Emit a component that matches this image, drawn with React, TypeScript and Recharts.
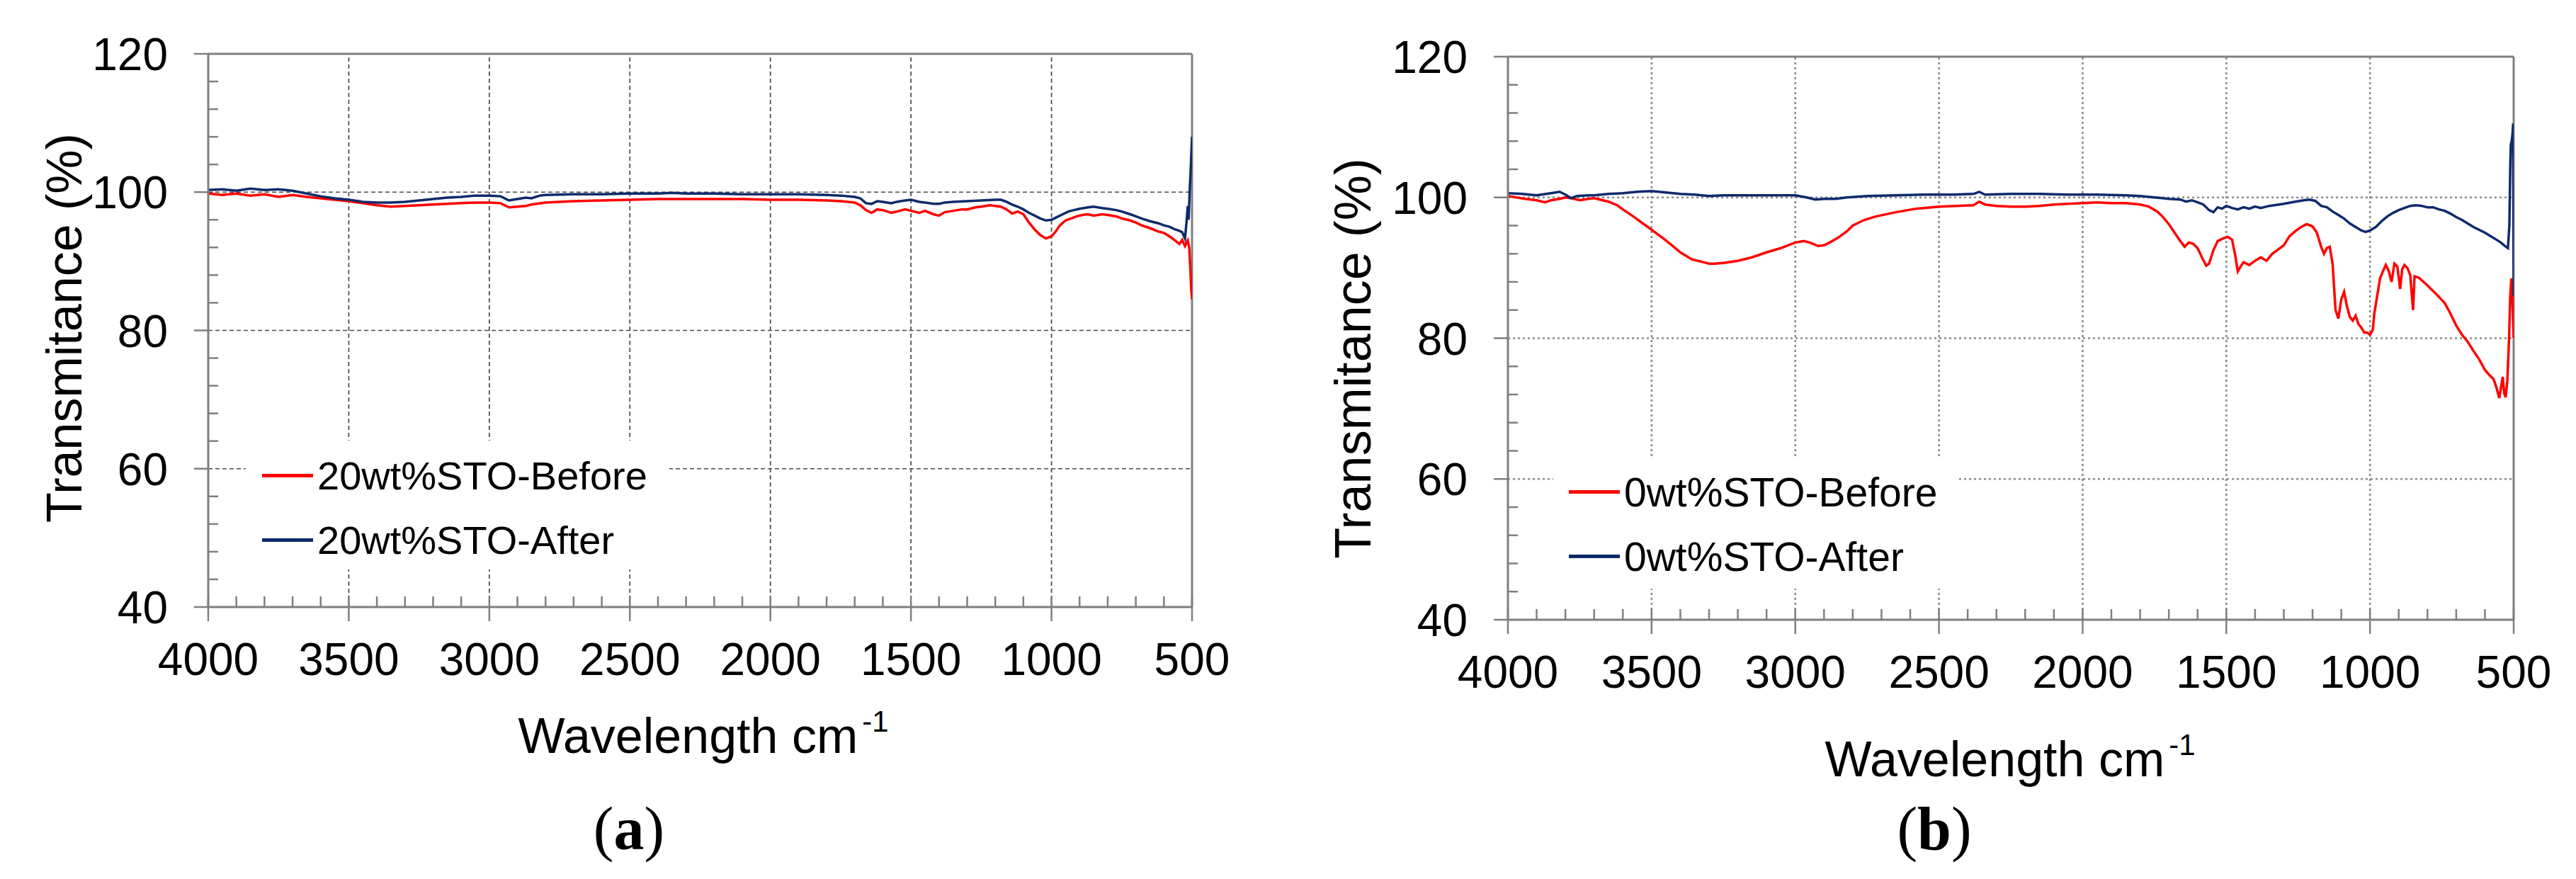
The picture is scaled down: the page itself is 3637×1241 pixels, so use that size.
import React from "react";
import { LineChart, Line, XAxis, YAxis, ReferenceLine, Legend } from "recharts";

// ---------- tick values ----------
const X_MAJOR = [4000, 3500, 3000, 2500, 2000, 1500, 1000, 500];
const X_MINOR = [
  4000, 3900, 3800, 3700, 3600, 3500, 3400, 3300, 3200, 3100, 3000, 2900, 2800, 2700, 2600, 2500, 2400, 2300,
  2200, 2100, 2000, 1900, 1800, 1700, 1600, 1500, 1400, 1300, 1200, 1100, 1000, 900, 800, 700, 600, 500,
];
const X_GRID = [3500, 3000, 2500, 2000, 1500, 1000];
const Y_MAJOR = [40, 60, 80, 100, 120];
const Y_MINOR = [40, 44, 48, 52, 56, 60, 64, 68, 72, 76, 80, 84, 88, 92, 96, 100, 104, 108, 112, 116, 120];
const Y_GRID = [60, 80, 100];

// ---------- panel (a): 20wt%STO ----------
const A_BEFORE_WN = [
  4000, 3950, 3900, 3850, 3800, 3750, 3700, 3650, 3600, 3550, 3500, 3450, 3400, 3350, 3300, 3250, 3200, 3150, 3100,
  3050, 3000, 2960, 2930, 2900, 2870, 2850, 2800, 2700, 2600, 2500, 2400, 2300, 2200, 2100, 2000, 1900, 1800, 1750,
  1700, 1680, 1660, 1640, 1620, 1600, 1570, 1550, 1520, 1500, 1470, 1450, 1420, 1400, 1380, 1350, 1320, 1300, 1270,
  1250, 1220, 1200, 1180, 1160, 1140, 1120, 1100, 1080, 1060, 1040, 1020, 1000, 985, 970, 950, 930, 910, 890, 870,
  850, 820, 800, 770, 750, 720, 700, 680, 650, 620, 600, 580, 560, 545, 535, 525, 515, 510, 506, 503, 500,
];
const A_BEFORE_T = [
  99.8, 99.6, 99.8, 99.5, 99.7, 99.3, 99.6, 99.3, 99.1, 98.9, 98.7, 98.4, 98.1, 97.9, 98.0, 98.1, 98.2, 98.3, 98.4,
  98.5, 98.5, 98.4, 97.8, 97.9, 98.0, 98.2, 98.5, 98.7, 98.8, 98.9, 99.0, 99.0, 99.0, 99.0, 98.9, 98.9, 98.8, 98.7,
  98.5, 98.1, 97.4, 97.0, 97.5, 97.4, 97.0, 97.2, 97.5, 97.3, 97.0, 97.3, 96.8, 96.6, 97.1, 97.3, 97.5, 97.5, 97.8,
  97.9, 98.1, 98.0, 97.9, 97.5, 96.9, 97.2, 96.8, 95.6, 94.6, 93.8, 93.3, 93.6, 94.3, 95.2, 95.9, 96.2, 96.5, 96.7, 96.8,
  96.6, 96.8, 96.7, 96.5, 96.2, 95.9, 95.6, 95.2, 94.8, 94.3, 94.1, 93.6, 93.0, 92.5, 93.1, 92.2, 93.0, 92.0, 89.0, 86.0, 84.5,
];
const A_AFTER_WN = [
  4000, 3950, 3900, 3850, 3800, 3750, 3700, 3650, 3600, 3550, 3500, 3450, 3400, 3350, 3300, 3250, 3200, 3150, 3100,
  3050, 3000, 2960, 2930, 2900, 2870, 2850, 2820, 2800, 2700, 2600, 2500, 2400, 2350, 2300, 2200, 2100, 2000, 1900,
  1800, 1750, 1700, 1680, 1660, 1640, 1620, 1600, 1570, 1550, 1520, 1500, 1470, 1450, 1420, 1400, 1380, 1350, 1300,
  1250, 1200, 1180, 1160, 1140, 1120, 1100, 1080, 1060, 1040, 1020, 1000, 980, 960, 940, 920, 900, 870, 850, 820, 800,
  770, 750, 720, 700, 680, 650, 620, 600, 580, 560, 545, 535, 525, 520, 515, 512, 508, 505, 502, 500,
];
const A_AFTER_T = [
  100.3, 100.4, 100.2, 100.5, 100.3, 100.4, 100.2, 99.8, 99.4, 99.1, 98.9, 98.6, 98.5, 98.5, 98.6, 98.8, 99.0, 99.2,
  99.3, 99.5, 99.5, 99.4, 98.8, 99.0, 99.2, 99.1, 99.5, 99.6, 99.7, 99.7, 99.8, 99.8, 99.9, 99.8, 99.8, 99.7, 99.7,
  99.7, 99.6, 99.5, 99.3, 99.1, 98.4, 98.3, 98.7, 98.6, 98.4, 98.6, 98.8, 98.9, 98.6, 98.5, 98.3, 98.3, 98.5, 98.6,
  98.7, 98.8, 98.9, 98.9, 98.6, 98.2, 97.9, 97.5, 97.0, 96.6, 96.2, 95.9, 96.0, 96.4, 96.8, 97.2, 97.4, 97.6, 97.8,
  97.9, 97.7, 97.6, 97.4, 97.2, 96.8, 96.5, 96.2, 95.8, 95.5, 95.2, 95.0, 94.6, 94.4, 94.2, 93.3, 95.5, 98.0, 96.0,
  100.5, 103.0, 106.0, 108.0,
];

// ---------- panel (b): 0wt%STO ----------
const B_BEFORE_WN = [
  4000, 3970, 3940, 3900, 3870, 3850, 3820, 3800, 3780, 3750, 3720, 3700, 3680, 3650, 3620, 3600, 3560, 3520, 3500,
  3460, 3420, 3400, 3360, 3320, 3300, 3280, 3250, 3200, 3150, 3100, 3050, 3000, 2970, 2950, 2920, 2900, 2880, 2850,
  2820, 2800, 2760, 2720, 2650, 2580, 2500, 2440, 2380, 2360, 2340, 2300, 2250, 2200, 2150, 2100, 2050, 2000, 1950,
  1900, 1850, 1800, 1770, 1740, 1720, 1700, 1680, 1660, 1645, 1630, 1615, 1600, 1585, 1570, 1560, 1545, 1530, 1510,
  1495, 1480, 1470, 1460, 1450, 1440, 1420, 1400, 1380, 1360, 1340, 1320, 1300, 1280, 1260, 1240, 1220, 1200, 1185,
  1170, 1160, 1150, 1140, 1130, 1120, 1110, 1100, 1090, 1080, 1070, 1060, 1050, 1040, 1030, 1020, 1010, 1000, 990,
  985, 975, 965, 955, 945, 935, 925, 915, 905, 895, 888, 880, 870, 860, 850, 845, 830, 800, 770, 740, 720, 700, 680,
  660, 640, 620, 600, 585, 570, 560, 550, 545, 538, 533, 528, 522, 516, 512, 508, 504, 500,
];
const B_BEFORE_T = [
  100.2, 100.0, 99.8, 99.6, 99.3, 99.6, 99.8, 100.0, 99.9, 99.6, 99.8, 99.9, 99.7, 99.4, 98.9, 98.3, 97.2, 96.0, 95.4,
  94.2, 92.9, 92.2, 91.2, 90.8, 90.6, 90.6, 90.7, 91.0, 91.5, 92.2, 92.8, 93.6, 93.8, 93.6, 93.1, 93.2, 93.6, 94.3,
  95.2, 96.0, 96.8, 97.3, 97.9, 98.4, 98.7, 98.8, 98.9, 99.4, 99.0, 98.8, 98.7, 98.7, 98.8, 99.0, 99.1, 99.2, 99.3,
  99.2, 99.2, 99.0, 98.7, 98.0, 97.2, 96.2, 95.0, 93.8, 93.0, 93.6, 93.4, 92.8, 91.5, 90.3, 90.6, 92.5, 93.8, 94.2,
  94.4, 94.0, 92.0, 89.5, 90.2, 90.8, 90.4, 91.0, 91.5, 91.0, 92.0, 92.6, 93.2, 94.5, 95.2, 95.8, 96.2, 95.9, 95.0,
  93.0, 92.0, 92.8, 93.0, 90.5, 84.0, 82.8, 85.5, 86.6, 84.5, 83.0, 82.5, 83.2, 82.0, 81.5, 80.8, 80.8, 80.5, 81.2,
  83.5, 86.0, 88.5, 89.5, 90.4, 89.6, 88.0, 90.6, 90.2, 87.0, 89.8, 90.4, 90.0, 89.0, 84.0, 88.8, 88.6, 87.5, 86.3,
  85.0, 83.5, 81.8, 80.5, 79.5, 78.2, 77.0, 75.5, 74.8, 74.2, 73.0, 71.5, 72.8, 74.5, 72.2, 71.6, 74.0, 80.0, 86.0,
  88.5, 85.0, 80.0,
];
const B_AFTER_WN = [
  4000, 3950, 3900, 3850, 3820, 3800, 3780, 3760, 3720, 3700, 3650, 3600, 3550, 3500, 3450, 3400, 3350, 3300, 3250,
  3200, 3100, 3000, 2960, 2930, 2900, 2860, 2820, 2750, 2650, 2550, 2450, 2380, 2360, 2340, 2250, 2150, 2050, 1950,
  1850, 1800, 1750, 1700, 1660, 1640, 1620, 1600, 1580, 1560, 1545, 1530, 1515, 1500, 1480, 1460, 1440, 1420, 1400,
  1380, 1350, 1300, 1260, 1230, 1210, 1190, 1170, 1150, 1130, 1110, 1090, 1070, 1050, 1030, 1015, 1000, 980, 960, 940,
  920, 900, 880, 860, 840, 820, 800, 780, 760, 740, 720, 700, 680, 660, 640, 620, 600, 580, 560, 545, 530, 520, 515,
  512, 510, 507, 504, 502, 500,
];
const B_AFTER_T = [
  100.6, 100.5, 100.3, 100.6, 100.8, 100.4, 99.9, 100.2, 100.3, 100.3, 100.5, 100.6, 100.8, 100.9, 100.7, 100.5,
  100.4, 100.2, 100.3, 100.3, 100.3, 100.3, 100.0, 99.7, 99.8, 99.8, 100.0, 100.2, 100.3, 100.4, 100.4, 100.5, 100.8,
  100.4, 100.5, 100.5, 100.4, 100.4, 100.3, 100.2, 100.0, 99.8, 99.7, 99.4, 99.6, 99.3, 99.0, 98.2, 97.9, 98.6, 98.4,
  98.8, 98.5, 98.3, 98.6, 98.4, 98.7, 98.5, 98.8, 99.1, 99.4, 99.6, 99.7, 99.5, 98.8, 98.6, 98.0, 97.5, 97.0, 96.3,
  95.8, 95.3, 95.1, 95.3, 95.8, 96.6, 97.3, 97.8, 98.2, 98.5, 98.8, 98.9, 98.8, 98.6, 98.6, 98.3, 98.1, 97.7, 97.2,
  96.8, 96.3, 95.8, 95.4, 95.0, 94.5, 94.0, 93.6, 93.1, 92.8, 96.0, 104.0, 107.5, 108.0, 109.0, 110.5, 86.0,
];

const SERIES_NAMES_A = ["20wt%STO-Before", "20wt%STO-After"];
const SERIES_NAMES_B = ["0wt%STO-Before", "0wt%STO-After"];

const RED = "#ff0000";
const NAVY = "#0c2b6b";
const AXIS = "#7f7f7f";
const FONT = "'Liberation Sans', Arial, sans-serif";

const toRows = (wn: number[], t: number[]) => wn.map((w, i) => ({ wn: w, t: t[i] }));

const renderXTick = (props: any) => {
  const { x, y, payload } = props;
  const v = payload.value;
  if (X_MAJOR.includes(v)) {
    return (
      <g>
        <line x1={x} x2={x} y1={y - 15} y2={y + 20} stroke={AXIS} strokeWidth={2.5} />
        <text x={x} y={y + 96} textAnchor="middle" fontSize={64} fontFamily={FONT} fill="#000">
          {v}
        </text>
      </g>
    );
  }
  return <line x1={x} x2={x} y1={y} y2={y - 15} stroke={AXIS} strokeWidth={2.5} />;
};

const renderYTick = (props: any) => {
  const { x, y, payload } = props;
  const v = payload.value;
  if (Y_MAJOR.includes(v)) {
    return (
      <g>
        <line x1={x - 20} x2={x} y1={y} y2={y} stroke={AXIS} strokeWidth={2.5} />
        <text x={x - 57} y={y + 23} textAnchor="end" fontSize={64} fontFamily={FONT} fill="#000">
          {v}
        </text>
      </g>
    );
  }
  return <line x1={x} x2={x + 14} y1={y} y2={y} stroke={AXIS} strokeWidth={2.5} />;
};

const makeLegend = (padLeft: number, fontSize: number, names: string[]) => (props: any) => {
  const items = [...(props.payload || [])].sort(
    (a: any, b: any) => names.indexOf(a.value) - names.indexOf(b.value)
  );
  return (
    <div style={{ paddingLeft: padLeft, paddingTop: 4 }}>
      {items.map((it: any) => (
        <div
          key={it.value}
          style={{ display: "flex", alignItems: "center", height: 91, fontFamily: FONT, fontSize, color: "#000" }}
        >
          <div style={{ width: 72, height: 5, background: it.color, marginRight: 6 }} />
          <span>{it.value}</span>
        </div>
      ))}
    </div>
  );
};

type PanelProps = {
  left: number;
  width: number;
  margin: { top: number; right: number; bottom: number; left: number };
  before: { wn: number; t: number }[];
  after: { wn: number; t: number }[];
  names: string[];
  gridDash: string;
  gridColor: string;
  gridWidth: number;
  legendBox: { left: number; top: number; width: number; height: number };
  legendPad: number;
  legendFont: number;
};

const Panel = (p: PanelProps) => (
  <div style={{ position: "absolute", left: p.left, top: 0 }}>
    <LineChart width={p.width} height={1241} margin={p.margin}>
      <XAxis
        dataKey="wn"
        type="number"
        domain={[500, 4000]}
        reversed
        allowDataOverflow
        ticks={X_MINOR}
        interval={0}
        height={2}
        tickSize={0}
        tickMargin={0}
        tickLine={false}
        axisLine={{ stroke: AXIS, strokeWidth: 3 }}
        tick={renderXTick}
      />
      <YAxis
        type="number"
        domain={[40, 120]}
        allowDataOverflow
        ticks={Y_MINOR}
        interval={0}
        width={2}
        tickSize={0}
        tickMargin={0}
        tickLine={false}
        axisLine={{ stroke: AXIS, strokeWidth: 3 }}
        tick={renderYTick}
      />
      {Y_GRID.map((v) => (
        <ReferenceLine
          key={"y" + v}
          y={v}
          stroke={p.gridColor}
          strokeWidth={p.gridWidth}
          strokeDasharray={p.gridDash}
        />
      ))}
      {X_GRID.map((v) => (
        <ReferenceLine
          key={"x" + v}
          x={v}
          stroke={p.gridColor}
          strokeWidth={p.gridWidth}
          strokeDasharray={p.gridDash}
        />
      ))}
      <ReferenceLine y={120} stroke={AXIS} strokeWidth={3} />
      <ReferenceLine x={500} stroke={AXIS} strokeWidth={3} />
      <Line
        data={p.before}
        dataKey="t"
        name={p.names[0]}
        stroke={RED}
        strokeWidth={3.5}
        dot={false}
        isAnimationActive={false}
        type="linear"
      />
      <Line
        data={p.after}
        dataKey="t"
        name={p.names[1]}
        stroke={NAVY}
        strokeWidth={3.5}
        dot={false}
        isAnimationActive={false}
        type="linear"
      />
      <Legend
        layout="vertical"
        align="center"
        verticalAlign="middle"
        wrapperStyle={{
          position: "absolute",
          left: p.legendBox.left,
          top: p.legendBox.top,
          width: p.legendBox.width,
          height: p.legendBox.height,
          background: "#fff",
        }}
        content={makeLegend(p.legendPad, p.legendFont, p.names)}
      />
    </LineChart>
  </div>
);

export default function App() {
  return (
    <div
      style={{
        position: "absolute",
        left: 0,
        top: 0,
        width: 3637,
        height: 1241,
        background: "#fff",
        overflow: "hidden",
      }}
    >
      <Panel
        left={0}
        width={1818}
        margin={{ top: 76, right: 135, bottom: 382, left: 292 }}
        before={toRows(A_BEFORE_WN, A_BEFORE_T)}
        after={toRows(A_AFTER_WN, A_AFTER_T)}
        names={SERIES_NAMES_A}
        gridDash="6 4"
        gridColor="#4a4a4a"
        gridWidth={1.7}
        legendBox={{ left: 347, top: 622, width: 598, height: 182 }}
        legendPad={23}
        legendFont={56}
      />
      <Panel
        left={1818}
        width={1819}
        margin={{ top: 80, right: 88, bottom: 364, left: 309 }}
        before={toRows(B_BEFORE_WN, B_BEFORE_T)}
        after={toRows(B_AFTER_WN, B_AFTER_T)}
        names={SERIES_NAMES_B}
        gridDash="3 4"
        gridColor="#8a8a8a"
        gridWidth={2.6}
        legendBox={{ left: 375, top: 645, width: 569, height: 186 }}
        legendPad={22}
        legendFont={57}
      />
      <svg
        width={3637}
        height={1241}
        style={{ position: "absolute", left: 0, top: 0, pointerEvents: "none" }}
      >
        <g fontFamily={FONT} fill="#000">
          <text transform="translate(115,463) rotate(-90)" textAnchor="middle" fontSize={70}>
            Transmitance (%)
          </text>
          <text transform="translate(1935,506) rotate(-90)" textAnchor="middle" fontSize={72}>
            Transmitance (%)
          </text>
          <text x={993} y={1063} textAnchor="middle" fontSize={70}>
            Wavelength cm
            <tspan dx={6} dy={-30} fontSize={42}>
              -1
            </tspan>
          </text>
          <text x={2838} y={1096} textAnchor="middle" fontSize={70}>
            Wavelength cm
            <tspan dx={6} dy={-30} fontSize={42}>
              -1
            </tspan>
          </text>
        </g>
        <g fontFamily="'Liberation Serif', 'Times New Roman', serif" fill="#000">
          <text x={888} y={1199} textAnchor="middle" fontSize={86}>
            (<tspan fontWeight="bold">a</tspan>)
          </text>
          <text x={2731} y={1199} textAnchor="middle" fontSize={86}>
            (<tspan fontWeight="bold">b</tspan>)
          </text>
        </g>
      </svg>
    </div>
  );
}
